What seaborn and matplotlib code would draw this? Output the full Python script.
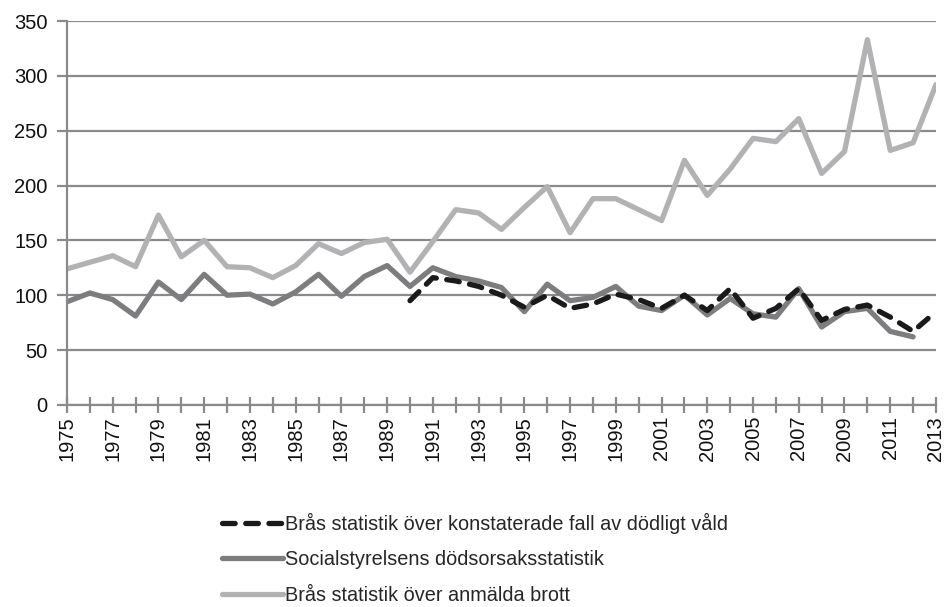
import numpy as np
import pandas as pd
import matplotlib
matplotlib.use("Agg")
import matplotlib.pyplot as plt
import seaborn as sns

years = list(range(1975, 2014))

# Brås statistik över anmälda brott
anmalda = [124, 130, 136, 126, 173, 135, 150, 126, 125, 116,
           127, 147, 138, 148, 151, 121, 149, 178, 175, 160,
           180, 199, 157, 188, 188, 178, 168, 223, 191, 215,
           243, 240, 261, 211, 231, 333, 232, 239, 292]

# Socialstyrelsens dödsorsaksstatistik (t.o.m. 2012)
socstyr = [94, 102, 96, 81, 112, 96, 119, 100, 101, 92,
           103, 119, 99, 117, 127, 108, 125, 117, 113, 107,
           85, 110, 95, 98, 108, 90, 86, 100, 82, 97,
           83, 80, 106, 71, 85, 88, 67, 62, np.nan]

# Brås statistik över konstaterade fall av dödligt våld (fr.o.m. 1990)
konstaterade = [np.nan] * 15 + [95, 116, 113, 108, 100, 89, 100, 88, 92, 101,
                                96, 88, 100, 86, 106, 79, 88, 106, 77, 87,
                                91, 80, 67, 85]

lab_konst = "Brås statistik över konstaterade fall av dödligt våld"
lab_soc = "Socialstyrelsens dödsorsaksstatistik"
lab_anm = "Brås statistik över anmälda brott"

df = pd.DataFrame({"år": years, lab_konst: konstaterade,
                   lab_soc: socstyr, lab_anm: anmalda})

sns.set_theme(style="white")
plt.rcParams["font.family"] = ["Liberation Sans", "DejaVu Sans"]

fig = plt.figure(figsize=(9.46, 6.07), dpi=100)
ax = fig.add_axes([0.0708, 0.333, 0.9186, 0.6324])

grid_c = "#8a8a8c"
lw = 3.8
sns.lineplot(data=df, x="år", y=lab_anm, color="#b2b2b4", linewidth=lw,
             ax=ax, label=lab_anm)
sns.lineplot(data=df, x="år", y=lab_soc, color="#7d7d80", linewidth=lw,
             ax=ax, label=lab_soc)
sns.lineplot(data=df, x="år", y=lab_konst, color="#1a1a1a", linewidth=lw,
             ax=ax, label=lab_konst, linestyle=(0, (2.4, 2.0)),
             dash_capstyle="round")

ax.set_xlim(1975, 2013)
ax.set_ylim(0, 350)
ax.set_yticks(range(0, 351, 50))
ax.set_xticks(years, minor=True)
ax.set_xticks(years[::2])
ax.set_xticklabels([str(y) for y in years[::2]], rotation=90)
ax.set_xlabel("")
ax.set_ylabel("")
ax.yaxis.grid(True, color=grid_c, linewidth=1.6)
ax.set_axisbelow(True)

for s in ["top", "right"]:
    ax.spines[s].set_visible(False)
for s in ["left", "bottom"]:
    ax.spines[s].set_color(grid_c)
    ax.spines[s].set_linewidth(1.6)

ax.tick_params(axis="y", which="major", left=True, length=7, width=1.6,
               color=grid_c, labelsize=14.5, pad=7, labelcolor="#111111")
ax.tick_params(axis="x", which="both", bottom=True, direction="inout",
               length=12, width=1.6, color=grid_c)
ax.tick_params(axis="x", which="major", labelsize=14.5, pad=2,
               labelcolor="#111111")

handles, labels = ax.get_legend_handles_labels()
ax.get_legend().remove()
order = [labels.index(lab_konst), labels.index(lab_soc), labels.index(lab_anm)]
fig.legend([handles[i] for i in order], [labels[i] for i in order],
           loc="upper left", bbox_to_anchor=(0.226, 0.168), frameon=False,
           fontsize=14.3, handlelength=3.1, handletextpad=0.1,
           labelspacing=0.82, borderaxespad=0)

fig.savefig("out.png", dpi=100)
